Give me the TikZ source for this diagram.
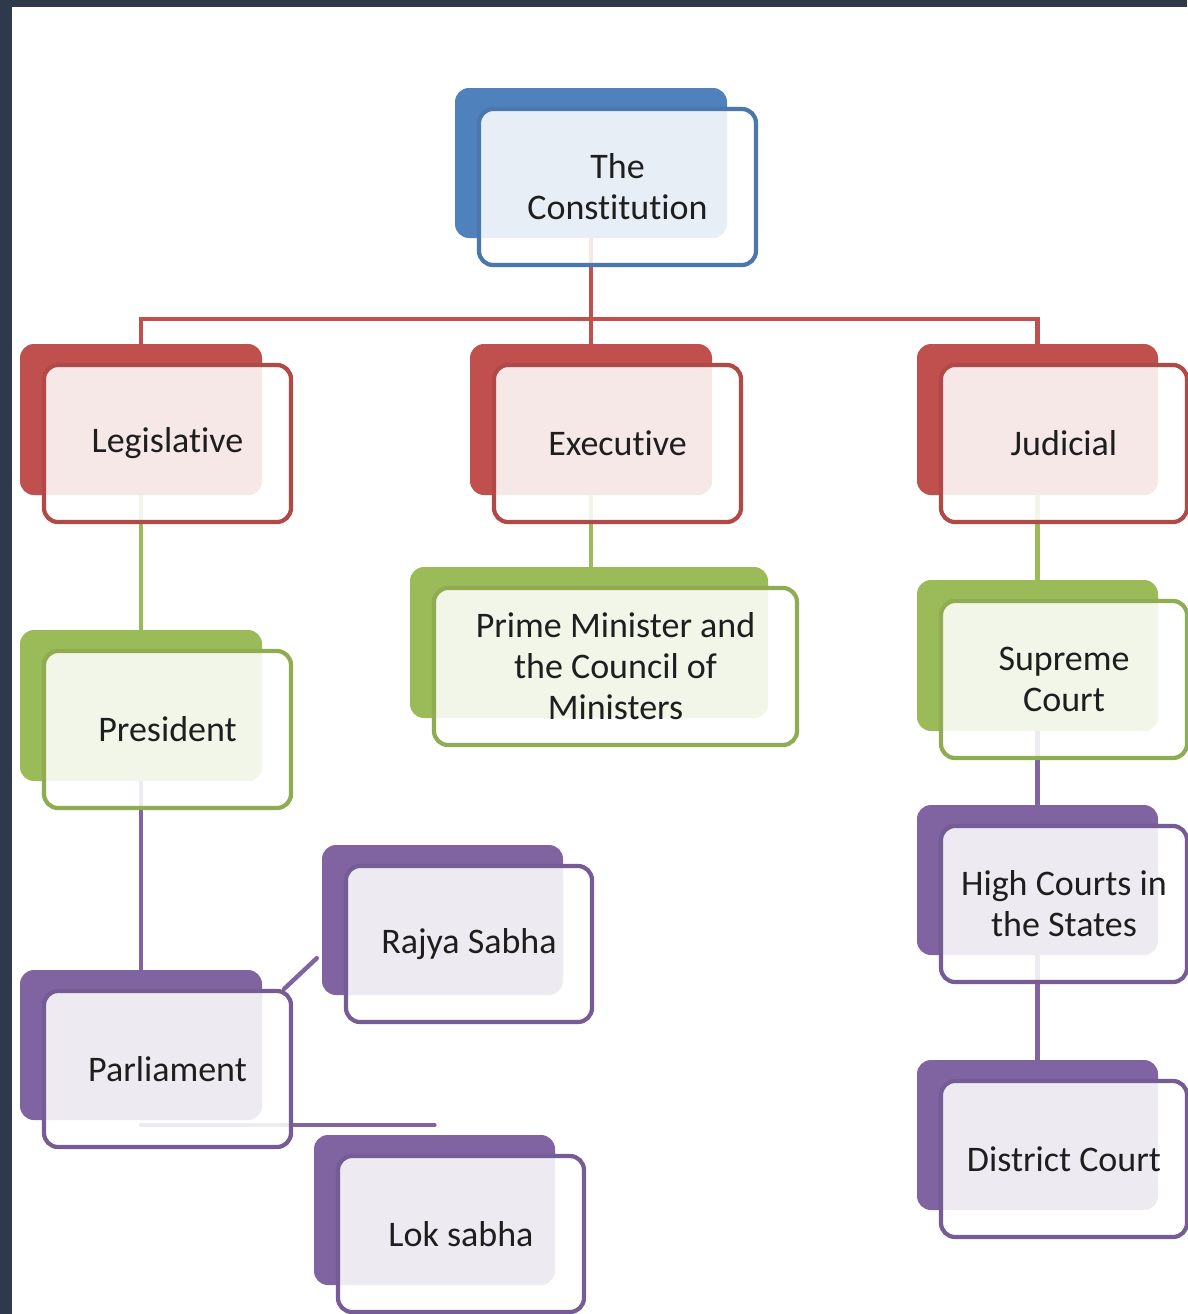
\documentclass[tikz,border=0pt]{standalone}
\usepackage{fontspec}
\setmainfont{Carlito}[Ligatures={NoCommon}]
\usetikzlibrary{calc}
\pgfdeclarelayer{bg}
\pgfsetlayers{bg,main}
\definecolor{cblue}{HTML}{4F81BD}
\definecolor{cred}{HTML}{C0504D}
\definecolor{cgreen}{HTML}{9BBB59}
\definecolor{cpurple}{HTML}{8064A2}
\definecolor{frame}{HTML}{2E3A4C}
\definecolor{txt}{HTML}{1E1E1E}
\tikzset{
  backbox/.style={rectangle, rounded corners=14pt, inner sep=0pt, draw=none},
  frontbox/.style={rectangle, rounded corners=14pt, inner sep=0pt, line width=4.2pt,
     fill=white, fill opacity=0.87, text opacity=1, text=txt, align=center,
     font=\fontsize{36}{41}\selectfont},
  conn/.style={line width=4.4pt},
}
% name, x, y, w, h, colour, text
\newcommand\orgbox[7]{%
  \node[backbox, fill=#6, minimum width={#4pt}, minimum height={#5pt}]
     (#1B) at ({#2+#4/2},{#3+#5/2}) {};
  \node[frontbox, draw=#6!92!black, minimum width={#4pt+5pt}, minimum height={#5pt+6pt}]
     (#1) at ({#2+#4/2+26.5},{#3+#5/2+24}) {#7};
}
\begin{document}
\begin{tikzpicture}[x=1pt,y=-1pt]
\useasboundingbox (0,0) rectangle (1187,1314);

\orgbox{const}{455}{88}{272}{150}{cblue}{The\\Constitution}
\orgbox{leg}{20}{344}{242}{151}{cred}{Legislative}
\orgbox{exec}{470}{344}{242}{151}{cred}{Executive}
\orgbox{jud}{917}{344}{241}{151}{cred}{Judicial}
\orgbox{pres}{20}{630}{242}{151}{cgreen}{President}
\orgbox{pm}{410}{567}{358}{151}{cgreen}{Prime Minister and\\the Council of\\Ministers}
\orgbox{sup}{917}{580}{241}{151}{cgreen}{Supreme\\Court}
\orgbox{hc}{917}{805}{241}{150}{cpurple}{High Courts in\\the States}
\orgbox{dist}{917}{1060}{241}{150}{cpurple}{District Court}
\orgbox{raj}{322}{845}{241}{150}{cpurple}{Rajya Sabha}
\orgbox{parl}{20}{970}{242}{150}{cpurple}{Parliament}
\orgbox{lok}{314}{1135}{241}{150}{cpurple}{Lok sabha}

\begin{pgfonlayer}{bg}
  \fill[white] (0,0) rectangle (1187,1314);
  \fill[frame] (0,0) rectangle (1187,7);
  \fill[frame] (0,0) rectangle (12,1314);
  \draw[conn, cred] (constB.center) -- (constB.center |- 0,319);
  \draw[conn, cred] (legB.north) -- (legB.north |- 0,319) -- (judB.north |- 0,319) -- (judB.north);
  \draw[conn, cred] (execB.north |- 0,319) -- (execB.north);
  \draw[conn, cgreen] (legB.center) -- (presB.north);
  \draw[conn, cgreen] (execB.center) -- (execB.center |- pmB.north);
  \draw[conn, cgreen] (judB.center) -- (supB.north);
  \draw[conn, cpurple] (presB.center) -- (parlB.north);
  \draw[conn, cpurple] (supB.center) -- (hcB.north);
  \draw[conn, cpurple] (hcB.center) -- (distB.north);
  \draw[conn, cpurple, line cap=round] ($(parl.north east)+(-9,0)$) -- ($(rajB.south west)+(-5,-37)$);
  \draw[conn, cpurple, line cap=round] (parlB.center |- 0,1125) -- (lokB.center |- 0,1125);
\end{pgfonlayer}
\end{tikzpicture}
\end{document}
